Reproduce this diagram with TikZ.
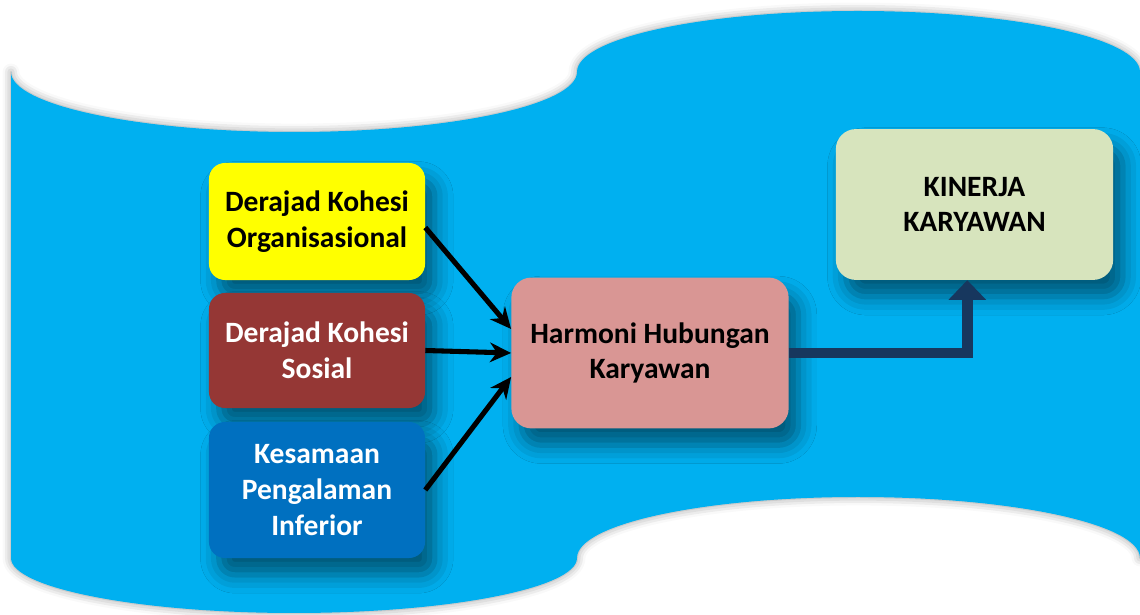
\documentclass[tikz,border=0pt]{standalone}
\usepackage{fontspec}
\setmainfont{Carlito}
\usetikzlibrary{positioning,arrows,arrows.meta,shadows.blur}
\definecolor{wave}{HTML}{00B0F0}
\definecolor{kohesiorg}{HTML}{FFFF00}
\definecolor{kohesisos}{HTML}{953735}
\definecolor{kesamaan}{HTML}{0070C0}
\definecolor{harmoni}{HTML}{D99694}
\definecolor{kinerja}{HTML}{D7E4BD}
\definecolor{navy}{HTML}{17375E}

\begin{document}
\begin{tikzpicture}[x=0.025cm, y=-0.025cm,
		>={Stealth[length=15pt,width=14pt]},
		boxnode/.style={rectangle,rounded corners=0.4cm,align=center,inner sep=2pt,
			font=\bfseries\fontsize{21}{25.5}\selectfont,
			blur shadow={shadow xshift=7pt,shadow yshift=-12pt,shadow blur radius=13pt,shadow opacity=50}},
		smallnode/.style={boxnode,minimum width=5.4cm},
		bignode/.style={boxnode,rounded corners=0.5cm,minimum width=6.93cm,minimum height=3.77cm},
		link/.style={->,line width=3.6pt,black},
		mainlink/.style={-{Triangle[width=26pt,length=14pt]},line width=7.8pt,navy}]
		
		\useasboundingbox (0,0) rectangle (1140,615);
		
		% wavy background band
		\fill[wave, blur shadow={shadow xshift=0pt,shadow yshift=0pt,shadow blur radius=6pt,shadow opacity=40}]
			(11,72) .. controls (11,105) and (138,132) .. (294,132)
			.. controls (450,132) and (577,105) .. (577,72)
			.. controls (577,38) and (703,11) .. (858,11)
			.. controls (1013,11) and (1140,38) .. (1140,72)
			-- (1140,558)
			.. controls (1140,524) and (1013,497) .. (858,497)
			.. controls (703,497) and (577,524) .. (577,558)
			.. controls (577,588) and (450,613) .. (294,613)
			.. controls (138,613) and (11,588) .. (11,558) -- cycle;
		
		\node[smallnode,fill=kohesiorg,minimum height=2.925cm] (org) at (317,221.5) {Derajad Kohesi\\Organisasional};
		\node[smallnode,fill=kohesisos,text=white,minimum height=2.875cm] (sos) at (317,350.5) {Derajad Kohesi\\Sosial};
		\node[smallnode,fill=kesamaan,text=white,minimum height=3.4cm] (inf) at (317,490) {Kesamaan\\Pengalaman\\Inferior};
		\node[bignode,fill=harmoni] (hh) at (650,353) {Harmoni Hubungan\\Karyawan};
		\node[bignode,fill=kinerja] (kk) at (974.5,204.5) {KINERJA\\KARYAWAN};
		
		\draw[link] ([yshift=-0.15cm]org.east) to ([yshift=0.6cm]hh.west);
		\draw[link] (sos.east) to (hh.west);
		\draw[link] (inf.east) to ([yshift=-0.6cm]hh.west);
		\draw[mainlink] (hh.east) -| ([xshift=-0.18cm]kk.south);
		
	\end{tikzpicture}
\end{document}
